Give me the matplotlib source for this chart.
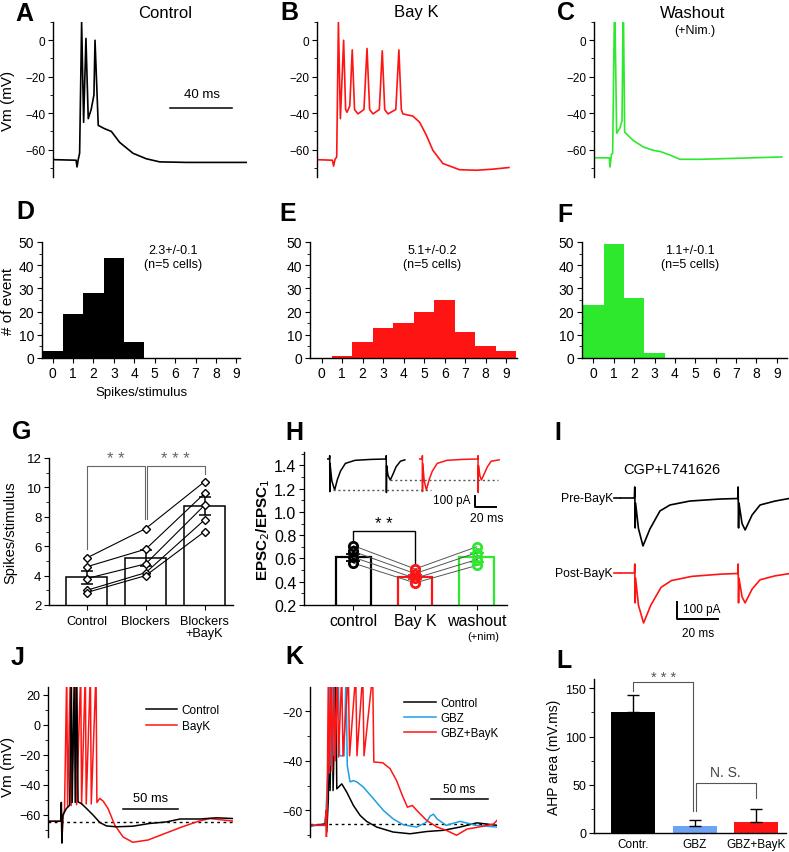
import matplotlib
matplotlib.use("Agg")
import matplotlib.pyplot as plt
from matplotlib.ticker import MultipleLocator, FixedLocator

plt.rcParams["font.family"] = ["Liberation Sans", "DejaVu Sans"]
plt.rcParams["axes.linewidth"] = 1.0
plt.rcParams["xtick.major.size"] = 3.5
plt.rcParams["ytick.major.size"] = 3.5
plt.rcParams["xtick.minor.size"] = 2
plt.rcParams["ytick.minor.size"] = 2

W, H = 789, 853
RED = "#ff1414"
GREEN = "#2ee82e"
BLUE = "#1e9ee6"
LBLUE = "#6ea3f2"

### Data

# A-C: firing traces (ms, mV)
ctrl_t = [1, 15, 15.6, 16.5, 17.3, 18.6, 19.9, 21.4, 22.9, 24.8, 26.6, 27.3, 29.4, 33.5, 37.9, 43.3,
          52, 60.6, 69.3, 86.6, 125.5]
ctrl_v = [-65.5, -65.8, -69.5, -65, -62, 10, -45, 1, -43, -38, -30, 0, -46.7, -48.5, -50, -56,
          -62, -65, -66.7, -67, -67]
bayk_t = [0, 10, 10.8, 11.7, 12.8, 13.9, 15.2, 17.3, 18.6, 19.5, 21.3, 22.9, 24.4, 26.6, 30.5, 32.5,
          34.2, 36.4, 40.5, 42.4, 44, 46.1, 51.2, 53.2, 54.8, 55.8, 62.3, 66.7, 71, 75.3, 81.8, 92.6,
          103.5, 114.3, 124.7]
bayk_v = [-65.5, -65.8, -69, -65.3, -64, 10, -43, 0, -38, -39.5, -36, -5.3, -38, -40.4, -38, -4.5,
          -38, -40.4, -38, -5.8, -38, -40.4, -38, -5.3, -38, -40.4, -41.6, -45, -52, -60.4, -67.6, -71,
          -71.3, -70.7, -69.8]
wash_t = [0, 10, 10.4, 11.3, 12.1, 13.4, 14.7, 16.9, 18.2, 19, 19.9, 25.5, 32, 38.5, 42.9, 49.4,
          55.8, 68.8, 81.8, 121.9]
wash_v = [-64.5, -64.5, -69.5, -62.7, -62, 25, -51, -48, -44, 25, -50.4, -55, -58.5, -60.4, -61, -63,
          -65.3, -65.3, -65, -64]

# D-F: spike count histograms
spike_bins = [0, 1, 2, 3, 4, 5, 6, 7, 8, 9]
ctrl_counts = [3, 19, 28, 43, 7, 0, 0, 0, 0, 0]
bayk_counts = [0, 1, 7, 13, 15, 20, 25, 11, 5, 3]
wash_counts = [23, 49, 26, 2, 0, 0, 0, 0, 0, 0]
hist_notes = ["2.3+/-0.1\n(n=5 cells)", "5.1+/-0.2\n(n=5 cells)", "1.1+/-0.1\n(n=5 cells)"]

# G: spikes per stimulus
g_labels = ["Control", "Blockers", "Blockers\n+BayK"]
g_means = [3.88, 5.22, 8.73]
g_sem = [0.45, 0.55, 0.6]
g_cells = [[5.2, 7.2, 10.4], [4.6, 5.8, 9.6], [3.8, 4.8, 8.8], [3.0, 4.2, 7.8], [2.85, 4.0, 7.0]]

# H: paired pulse ratio
h_labels = ["control", "Bay K", "washout"]
h_means = [0.61, 0.44, 0.61]
h_sem = [0.03, 0.02, 0.04]
h_cells = [[0.71, 0.51, 0.70], [0.66, 0.47, 0.65], [0.61, 0.43, 0.59], [0.56, 0.39, 0.54]]
h_colors = ["black", RED, GREEN]
# H inset EPSC traces (ms, pA)
h_ctrl_t = [0, 2.3, 2.5, 2.6, 2.8, 4.5, 7.1, 9.5, 12.5, 17, 26, 40, 54.6, 54.8, 55.0, 55.2, 56.5,
            58.6, 61, 64, 68, 72]
h_ctrl_i = [0, 0, 30, -297, -40, -200, -282, -190, -110, -40, -12, -4, 0, 30, -305, -60, -150,
            -191, -140, -70, -20, -8]
h_bayk_t = [85.8, 88.1, 88.3, 88.4, 88.6, 90, 92, 94.5, 97.5, 102, 111, 125, 139.6, 139.8, 140.0,
            140.2, 141.5, 142.9, 145.3, 148.5, 152, 159.3]
h_bayk_i = [0, 0, 30, -297, -40, -200, -282, -190, -110, -40, -12, -4, 0, 30, -305, -60, -150,
            -191, -140, -70, -20, -8]

# I: EPSCs in CGP+L741626 (ms, pA)
i_pre_t = [0, 7.0, 7.2, 7.4, 7.6, 9.0, 11.2, 14.6, 19.5, 24.4, 34, 48.8, 57.4, 57.6, 57.8, 58.0,
           59.5, 61, 64.4, 68.3, 75.6, 82.4]
i_pre_i = [0, 0, 65, -176, -30, -180, -282, -182, -76, -41, -18, -6, -3, 65, -176, -30, -150,
           -188, -100, -41, -18, -3]
i_post_t = [0, 7.0, 7.2, 7.4, 7.6, 9.0, 11.5, 15, 20, 25, 35, 49, 57.4, 57.6, 57.8, 58.0, 59.5,
            61, 64.4, 68.3, 75.6, 82.4]
i_post_i = [0, 0, 53, -176, -30, -190, -294, -190, -85, -45, -20, -7, -3, 53, -176, -30, -140,
            -176, -95, -40, -17, -4]

# J: control vs BayK (ms, mV)
j_bayk_t = [0, 11.5, 12.1, 12.6, 13.5, 15, 17, 17.8, 20.3, 21, 25.2, 26, 29.7, 30.5, 33.9, 34.7,
            38.5, 39.3, 43.6, 44.4, 47, 50, 54.5, 60.6, 68.2, 77, 90.9, 106, 122, 137, 147, 168]
j_bayk_v = [-64.5, -64.5, -52, -79, -62, -57, 35, -55, 35, -54, 35, -53.5, 35, -53, 35, -53,
            35, -53, 35, -52, -49.3, -51, -56, -67, -75, -78.5, -77, -72.7, -68.2, -64.4, -62.7, -64.4]
j_ctrl_t = [0, 11.5, 12.1, 12.6, 13.5, 16.7, 19.7, 21.2, 22, 23.9, 24.7, 26.1, 27.3, 30.3, 35, 41,
            47, 53, 62, 77, 92, 107, 120, 138, 153, 168]
j_ctrl_v = [-64.5, -64.5, -52, -79, -60.4, -56, -53.8, 35, -52, 35, -52, 35, -51.6, -52.7, -56,
            -60.4, -65.3, -67.6, -68.2, -67.8, -66, -65, -63, -63, -62.2, -62.7]

# K: control, GBZ, GBZ+BayK (ms, mV)
k_gbzb_t = [0, 13.3, 13.9, 14.2, 14.8, 15.9, 16.8, 18.2, 19.2, 20.8, 21.8, 23.7, 24.7, 27.5, 28.6,
            33.2, 34.3, 39.6, 40.7, 45.7, 46.8, 54.3, 55.3, 63, 69.4, 75, 80, 84.4, 88.7, 92.5, 101,
            110, 118, 127, 136, 145, 159, 162]
k_gbzb_v = [-66, -66, -60, -72, -60, -5, -45, -5, -44, -5, -40, -5, -38.5, -5, -38, -5, -38, -5,
            -38, -5, -38, -5, -40.5, -40.8, -43.2, -48, -54, -58.7, -58, -60, -64, -66.7, -68, -70,
            -67.5, -66.8, -65.5, -64]
k_gbz_t = [0, 13.3, 15.3, 17.3, 18.2, 19.7, 20.8, 24.6, 25.6, 29.5, 31.2, 32.3, 34.7, 37.5, 40.5,
           46, 55, 63.6, 72, 80.9, 92.5, 101, 104, 107, 110, 118, 130, 144, 162]
k_gbz_v = [-66, -66, -46, -5, -42, -5, -38, -5, -38, -38, -5, -42, -48.5, -48, -48.5, -50.5,
           -55.3, -60, -63.4, -65.8, -66.7, -64.7, -62.3, -61.5, -63.4, -66, -64.4, -66, -66.7]
k_ctrl_t = [0, 13, 13.9, 14.5, 15.9, 16.5, 17.4, 19.1, 20, 22.3, 23.2, 27.5, 31.8, 37.6, 43.4, 49,
            57.8, 72, 86.7, 101, 115.6, 130, 144.5, 162]
k_ctrl_v = [-66.3, -65.4, -60.7, -68.7, -55.3, -5, -52, -5, -52, -5, -51.3, -49.3, -52.6, -58,
            -62, -64.4, -66.7, -68.7, -69.4, -68.5, -68, -66.7, -65, -66]

# L: AHP area
l_labels = ["Contr.", "GBZ", "GBZ+BayK"]
l_means = [125, 7.6, 11]
l_sem = [18.3, 6.2, 13.5]
l_colors = ["black", LBLUE, RED]

### Figure

fig = plt.figure(figsize=(W / 100, H / 100), dpi=100)


def add_ax(x0, y0, x1, y1):
    return fig.add_axes([x0 / W, 1 - y1 / H, (x1 - x0) / W, (y1 - y0) / H])


def ftext(x, y, s, **kw):
    kw.setdefault("ha", "center")
    kw.setdefault("va", "center")
    fig.text(x / W, 1 - y / H, s, **kw)


def left_only(ax):
    ax.spines[["right", "top", "bottom"]].set_visible(False)
    ax.tick_params(bottom=False, labelbottom=False)


def ylab_at(ax, box, px, text, **kw):
    ax.set_ylabel(text, **kw)
    ax.yaxis.set_label_coords((px - box[0]) / (box[2] - box[0]), 0.5)


# Panel letters
for letter, (x, y) in zip("ABCDEFGHIJKL",
                          [(24, 14), (289, 13), (566, 13), (25, 212), (288, 214), (565, 215),
                           (22, 432), (294, 433), (558, 433), (18, 658), (294, 657), (564, 661)]):
    ftext(x, y, letter, fontsize=18, fontweight="bold")

### A-C traces
trace_boxes = [(53, 23, 250, 178), (317, 23, 514, 178), (594, 23, 789, 178)]
trace_xmax = [128, 128, 126.6]
for box, xmax, t, v, c in zip(trace_boxes, trace_xmax, [ctrl_t, bayk_t, wash_t],
                              [ctrl_v, bayk_v, wash_v], ["black", RED, GREEN]):
    ax = add_ax(*box)
    ax.plot(t, v, color=c, lw=1.2)
    ax.set_xlim(0, xmax)
    ax.set_ylim(-75, 10)
    ax.set_yticks([-60, -40, -20, 0])
    ax.yaxis.set_minor_locator(MultipleLocator(10))
    ax.tick_params(labelsize=8.5, pad=2)
    ax.patch.set_alpha(0)
    left_only(ax)
    if box[0] == 53:
        ylab_at(ax, box, 15, "Vm (mV)", fontsize=11)
        ax.plot([76, 116], [-37.3, -37.3], color="black", lw=1.1)
        ax.text(96.8, -29.5, "40 ms", ha="center", va="center", fontsize=9.5)

ftext(165, 13, "Control", fontsize=12)
ftext(416, 12, "Bay K", fontsize=12)
ftext(693, 13, "Washout", fontsize=12)
ftext(695, 31, "(+Nim.)", fontsize=9)

### D-F histograms
hist_boxes = [(42, 243, 240, 359), (310, 243, 517, 359), (582, 243, 787, 359)]
hist_xlims = [(-0.52, 9.18), (-0.57, 9.53), (-0.56, 9.5)]
note_x = [173, 432, 690]
for box, xl, counts, c, note, nx in zip(hist_boxes, hist_xlims,
                                        [ctrl_counts, bayk_counts, wash_counts],
                                        ["black", RED, GREEN], hist_notes, note_x):
    ax = add_ax(*box)
    ax.bar(spike_bins, counts, width=1.0, color=c, linewidth=0)
    ax.set_xlim(*xl)
    ax.set_ylim(0, 50)
    ax.set_xticks(spike_bins)
    ax.set_yticks([0, 10, 20, 30, 40, 50])
    ax.yaxis.set_minor_locator(MultipleLocator(5))
    ax.spines[["right", "top"]].set_visible(False)
    ax.tick_params(labelsize=10, pad=2)
    ftext(nx, 258, note, fontsize=9, linespacing=1.15)
    if box[0] == 42:
        ylab_at(ax, box, 15, "# of event", fontsize=11)
        ax.set_xlabel("Spikes/stimulus", fontsize=9.5)
        ax.xaxis.set_label_coords(0.5, -0.24)

### G
gbox = (49, 459, 233, 606)
ax = add_ax(*gbox)
xs = [0, 1, 2]
ax.bar(xs, g_means, width=0.7, bottom=0, facecolor="white", edgecolor="black", lw=1.1)
ax.errorbar(xs, g_means, yerr=g_sem, fmt="none", ecolor="black", elinewidth=1.1, capsize=4,
            capthick=1.1)
for cell in g_cells:
    ax.plot(xs, cell, color="black", lw=0.8, marker="D", ms=4, mfc="white", mec="black",
            mew=1.0, zorder=4)
bc = "#666666"
ax.plot([0, 0, 0.98, 0.98], [5.8, 11.43, 11.43, 7.85], color=bc, lw=0.8)
ax.plot([1.02, 1.02, 2, 2], [7.85, 11.43, 11.43, 10.9], color=bc, lw=0.8)
ax.text(0.5, 11.95, "* *", ha="center", va="center", fontsize=12, color=bc)
ax.text(1.5, 11.95, "* * *", ha="center", va="center", fontsize=12, color=bc)
ax.set_xlim(-0.64, 2.48)
ax.set_ylim(2, 12)
ax.set_yticks([2, 4, 6, 8, 10, 12])
ax.yaxis.set_minor_locator(MultipleLocator(1))
ax.set_xticks(xs)
ax.set_xticklabels(g_labels, fontsize=9.2, linespacing=1.0)
ax.tick_params(axis="y", labelsize=9.5, pad=2)
ax.spines[["right", "top"]].set_visible(False)
ylab_at(ax, gbox, 17, "Spikes/stimulus", fontsize=10.5)

### H
hbox = (304, 453, 507, 606)
ax = add_ax(*hbox)
ax.bar(xs, h_means, width=0.56, bottom=0, facecolor="none", edgecolor=h_colors, lw=1.6)
for x, m, s, c in zip(xs, h_means, h_sem, h_colors):
    ax.errorbar(x, m, yerr=s, fmt="none", ecolor=c, elinewidth=1.3, capsize=5, capthick=1.3)
for cell in h_cells:
    ax.plot(xs, cell, color="#555555", lw=0.7, zorder=3)
for i, c in enumerate(h_colors):
    ax.plot([i] * len(h_cells), [cell[i] for cell in h_cells], ls="none", marker="o", ms=6,
            mfc="none", mec=c, mew=2.0, zorder=4)
ax.plot([0, 0, 1, 1], [0.755, 0.84, 0.84, 0.54], color="black", lw=1.0)
ax.text(0.5, 0.9, "* *", ha="center", va="center", fontsize=12)
ax.set_xlim(-0.8, 2.49)
ax.set_ylim(0.2, 1.515)
ax.set_yticks([0.2, 0.4, 0.6, 0.8, 1.0, 1.2, 1.4])
ax.yaxis.set_minor_locator(MultipleLocator(0.1))
ax.set_xticks(xs)
ax.set_xticklabels(h_labels, fontsize=11.5)
ax.tick_params(axis="y", labelsize=11.5, pad=2)
ax.tick_params(axis="x", pad=2)
ax.spines[["right", "top"]].set_visible(False)
ylab_at(ax, hbox, 272, r"EPSC$_2$/EPSC$_1$", fontsize=11, fontweight="bold")
ftext(483, 637, "(+nim)", fontsize=8)

# H inset traces
ax = add_ax(327, 450, 510, 525)
ax.axis("off")
ax.patch.set_alpha(0)
ax.plot(h_ctrl_t, h_ctrl_i, color="black", lw=1.1)
ax.plot(h_bayk_t, h_bayk_i, color=RED, lw=1.1)
ax.plot([5.6, 96.6], [-282, -282], color="#555555", lw=1.0, ls=(0, (1.5, 2)))
ax.plot([58, 158], [-195, -195], color="#555555", lw=1.0, ls=(0, (1.5, 2)))
ax.plot([136.7, 136.7, 156.7], [-339, -439, -439], color="black", lw=1.4)
ax.text(132.4, -370, "100 pA", ha="right", va="center", fontsize=8.5)
ax.text(147.8, -539, "20 ms", ha="center", va="center", fontsize=8.8)
ax.set_xlim(0, 169.4)
ax.set_ylim(-591, 90.9)

### I
ax = add_ax(620, 465, 789, 645)
ax.axis("off")
ax.patch.set_alpha(0)
post_offset = -441
ax.plot(i_pre_t, i_pre_i, color="black", lw=1.2)
ax.plot(i_post_t, [v + post_offset for v in i_post_i], color=RED, lw=1.2)
ax.plot([-3, 0], [0, 0], color="black", lw=1.2, clip_on=False)
ax.plot([-3, 0], [post_offset, post_offset], color=RED, lw=1.2, clip_on=False)
ax.plot([27.8, 27.8, 47.8], [-612, -712, -712], color="black", lw=1.4)
ax.text(30.5, -655, "100 pA", ha="left", va="center", fontsize=8.5)
ax.text(38, -795, "20 ms", ha="center", va="center", fontsize=8.5)
ax.text(-3.5, 0, "Pre-BayK", ha="right", va="center", fontsize=8.8)
ax.text(-3.5, post_offset, "Post-BayK", ha="right", va="center", fontsize=8.8)
ax.set_xlim(0, 82.4)
ax.set_ylim(-858.8, 200)
ftext(672, 470, "CGP+L741626", fontsize=10.5)

### J
jbox = (48, 688, 233, 845.5)
ax = add_ax(*jbox)
ax.plot([0, 168], [-65, -65], color="black", lw=1.0, ls=(0, (2, 2.5)))
ax.plot(j_bayk_t, j_bayk_v, color=RED, lw=1.1, label="BayK")
ax.plot(j_ctrl_t, j_ctrl_v, color="black", lw=1.1, label="Control")
ax.plot([68.2, 118.2], [-56.4, -56.4], color="black", lw=1.1)
ax.text(93, -49.3, "50 ms", ha="center", va="center", fontsize=9.3)
h, l = ax.get_legend_handles_labels()
ax.legend(h[::-1], l[::-1], loc="upper left", bbox_to_anchor=(0.5, 0.93), frameon=False,
          fontsize=8.5, handlelength=2.6, handletextpad=0.4, labelspacing=0.35, borderpad=0)
ax.set_xlim(0, 168)
ax.set_ylim(-80, 25)
ax.spines["left"].set_bounds(-75, 25)
ax.set_yticks([-60, -40, -20, 0, 20])
ax.yaxis.set_minor_locator(FixedLocator([-70, -50, -30, -10, 10]))
ax.tick_params(labelsize=9, pad=2)
left_only(ax)
ylab_at(ax, jbox, 15, "Vm (mV)", fontsize=11)

### K
kbox = (310, 688, 497, 838)
ax = add_ax(*kbox)
ax.plot([0, 162], [-65.4, -65.4], color="black", lw=1.0, ls=(0, (2, 2.5)))
ax.plot(k_ctrl_t, k_ctrl_v, color="black", lw=1.1, label="Control")
ax.plot(k_gbz_t, k_gbz_v, color=BLUE, lw=1.1, label="GBZ")
ax.plot(k_gbzb_t, k_gbzb_v, color=RED, lw=1.1, label="GBZ+BayK")
ax.plot([104.6, 154.6], [-55.3, -55.3], color="black", lw=1.1)
ax.text(129.5, -51.5, "50 ms", ha="center", va="center", fontsize=8.5)
ax.legend(loc="upper left", bbox_to_anchor=(0.47, 0.97), frameon=False, fontsize=8.3,
          handlelength=2.8, handletextpad=0.4, labelspacing=0.25, borderpad=0)
ax.set_xlim(0, 162)
ax.set_ylim(-70.7, -10.3)
ax.set_yticks([-60, -40, -20])
ax.yaxis.set_minor_locator(MultipleLocator(10))
ax.tick_params(labelsize=8.6, pad=2)
left_only(ax)

### L
lbox = (594, 680, 786, 834)
ax = add_ax(*lbox)
ax.bar(xs, l_means, width=0.71, color=l_colors, linewidth=0)
ax.errorbar(xs, l_means, yerr=[[0, 0, 0], l_sem], fmt="none", ecolor="black", elinewidth=1.0,
            capsize=4, capthick=1.0)
ax.plot([0, 0, 0.97, 0.97], [147.6, 157, 157, 23], color="#555555", lw=0.8, clip_on=False)
ax.plot([1.03, 1.03, 2, 2], [23, 51.9, 51.9, 36], color="#555555", lw=0.8)
ax.text(0.5, 162, "* * *", ha="center", va="center", fontsize=10.5, color="#555555")
ax.text(1.5, 63, "N. S.", ha="center", va="center", fontsize=10, color="#444444")
ax.set_xlim(-0.63, 2.48)
ax.set_ylim(0, 159.7)
ax.set_yticks([0, 50, 100, 150])
ax.yaxis.set_minor_locator(MultipleLocator(25))
ax.set_xticks(xs)
ax.set_xticklabels(l_labels, fontsize=8.5)
ax.tick_params(axis="x", length=0)
ax.tick_params(axis="y", labelsize=9, pad=2)
ax.spines[["right", "top"]].set_visible(False)
ylab_at(ax, lbox, 561, "AHP area (mV.ms)", fontsize=10)

fig.savefig("out.png", dpi=100)
